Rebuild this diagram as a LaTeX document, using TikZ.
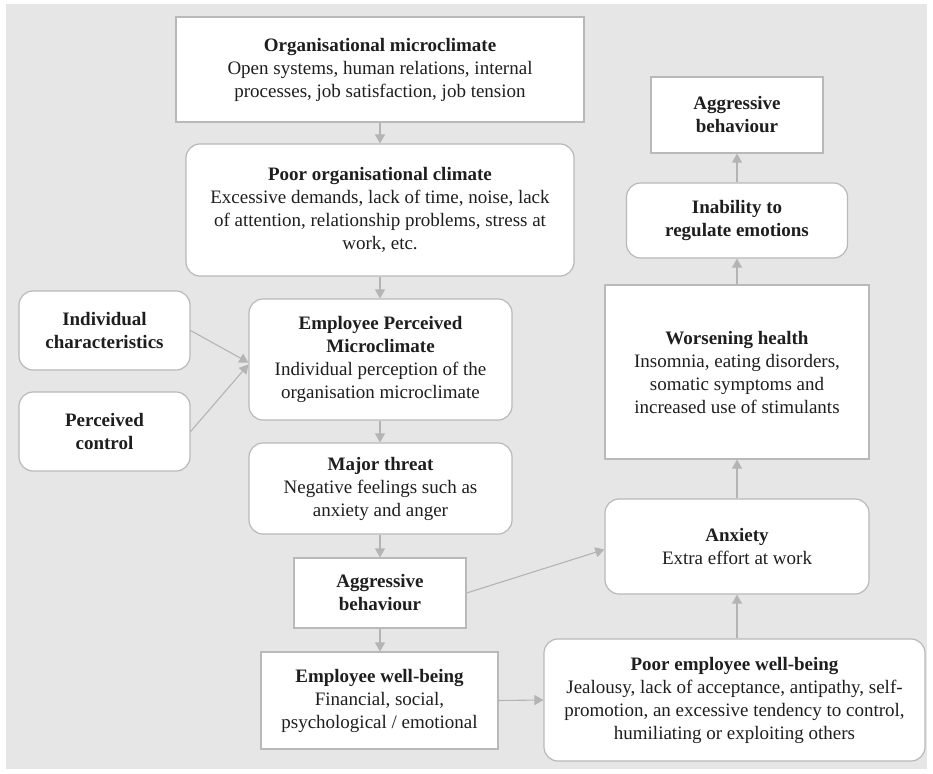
\documentclass[tikz,border=0pt]{standalone}
\usepackage{fontspec}
\setmainfont{Liberation Serif}
\newfontfamily\boxfont{Liberation Serif}
\usetikzlibrary{arrows.meta}
\definecolor{bggray}{HTML}{E6E6E6}
\definecolor{edgegray}{HTML}{B9B9B9}
\definecolor{arrowgray}{HTML}{B4B4B4}
\definecolor{inkgray}{HTML}{1E1E1E}
\tikzset{
  sqbox/.style={draw=edgegray, line width=1.2pt, fill=white, align=center,
    inner sep=2pt, text=inkgray, font=\boxfont\fontsize{19}{23}\selectfont},
  rdbox/.style={sqbox, rounded corners=14pt},
  flow/.style={draw=arrowgray, line width=1.1pt, -{Triangle[width=10pt,length=9pt]}},
}
\begin{document}
\begin{tikzpicture}[x=1pt, y=-1pt]
  % page and grey ground
  \useasboundingbox (0,0) rectangle (933,773);
  \fill[bggray] (6,4) rectangle (927,769);
  % centre column
  \node[sqbox, minimum width=408pt, minimum height=105pt] (orgmicro) at (380,69.5)
    {\textbf{Organisational microclimate}\\Open systems, human relations, internal\\processes, job satisfaction, job tension};
  \node[rdbox, minimum width=388pt, minimum height=132pt] (poorclim) at (380,210)
    {\textbf{Poor organisational climate}\\Excessive demands, lack of time, noise, lack\\of attention, relationship problems, stress at\\work, etc.};
  \node[rdbox, minimum width=263pt, minimum height=121pt] (epm) at (380.5,359.5)
    {\textbf{Employee Perceived}\\\textbf{Microclimate}\\Individual perception of the\\organisation microclimate};
  \node[rdbox, minimum width=263pt, minimum height=91pt] (threat) at (380.5,488.5)
    {\textbf{Major threat}\\Negative feelings such as\\anxiety and anger};
  \node[sqbox, minimum width=172pt, minimum height=70pt] (aggmid) at (380,593)
    {\textbf{Aggressive}\\\textbf{behaviour}};
  \node[sqbox, minimum width=237pt, minimum height=97pt] (wellbeing) at (379.5,700.5)
    {\textbf{Employee well-being}\\Financial, social,\\psychological / emotional};
  % left column
  \node[rdbox, minimum width=171pt, minimum height=79pt] (indiv) at (104.5,330.5)
    {\textbf{Individual}\\\textbf{characteristics}};
  \node[rdbox, minimum width=171pt, minimum height=79pt] (percctrl) at (104.5,431.5)
    {\textbf{Perceived}\\\textbf{control}};
  % right column
  \node[sqbox, minimum width=172pt, minimum height=76pt] (aggtop) at (737,115)
    {\textbf{Aggressive}\\\textbf{behaviour}};
  \node[rdbox, minimum width=221pt, minimum height=75pt] (inability) at (737,220.5)
    {\textbf{Inability to}\\\textbf{regulate emotions}};
  \node[sqbox, minimum width=264pt, minimum height=174pt] (worsening) at (737,372)
    {\textbf{Worsening health}\\Insomnia, eating disorders,\\somatic symptoms and\\increased use of stimulants};
  \node[rdbox, minimum width=264pt, minimum height=95pt] (anxiety) at (737,546.5)
    {\textbf{Anxiety}\\Extra effort at work};
  \node[rdbox, minimum width=381pt, minimum height=122pt] (poorwell) at (734.5,700)
    {\textbf{Poor employee well-being}\\Jealousy, lack of acceptance, antipathy, self-\\promotion, an excessive tendency to control,\\humiliating or exploiting others};
  % arrows down the centre
  \draw[flow] (orgmicro) -- (poorclim);
  \draw[flow] (poorclim) -- (epm.north -| poorclim.south);
  \draw[flow] (epm.south -| aggmid.north) -- (threat.north -| aggmid.north);
  \draw[flow] (threat.south -| aggmid.north) -- (aggmid);
  \draw[flow] (aggmid.south) -- (wellbeing.north -| aggmid.south);
  % inputs from the left
  \draw[flow] (indiv.east) -- ([yshift=-3pt]epm.west);
  \draw[flow] (percctrl.east) -- ([yshift=-5pt]epm.west);
  % across to the right
  \draw[flow] (aggmid.east) -- ([yshift=-3pt]anxiety.west);
  \draw[flow] (wellbeing.east) -- (poorwell.west);
  % arrows up the right
  \draw[flow] (anxiety.south |- poorwell.north) -- (anxiety.south);
  \draw[flow] (anxiety) -- (worsening);
  \draw[flow] (worsening) -- (inability);
  \draw[flow] (inability) -- (aggtop);
\end{tikzpicture}
\end{document}
